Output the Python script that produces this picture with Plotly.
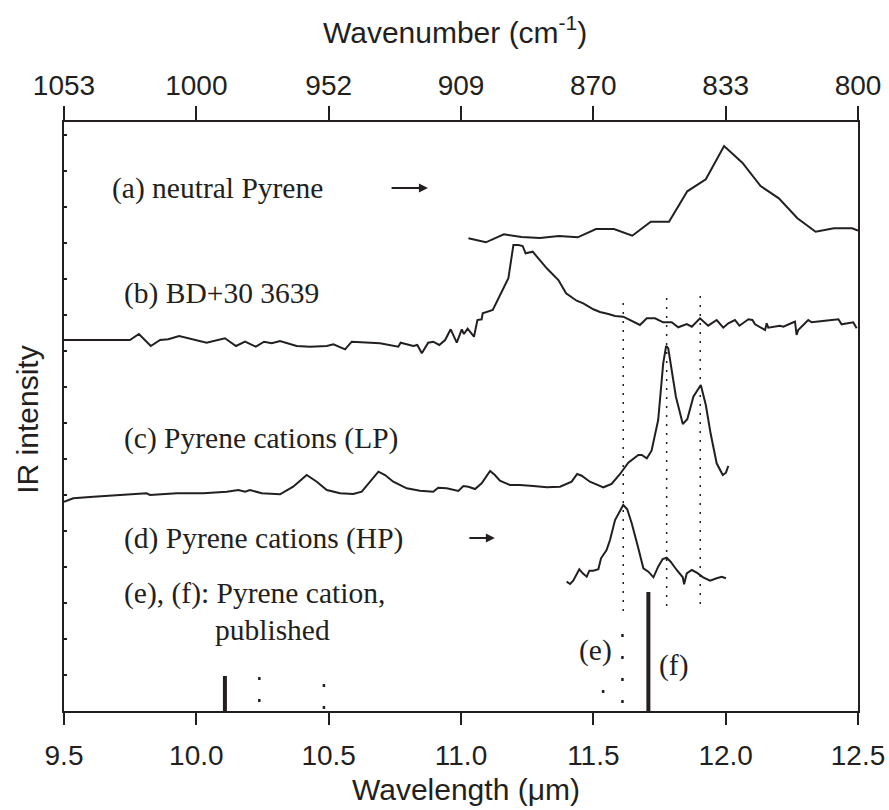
import plotly.graph_objects as go

# ---------------- data (wavelength in um, intensity in arb. units) ----------------
wl_a = [11.028, 11.094, 11.162, 11.229, 11.298, 11.370, 11.441, 11.510, 11.578, 11.647, 11.717,
        11.786, 11.855, 11.925, 11.994, 12.063, 12.132, 12.201, 12.271, 12.340, 12.409, 12.478, 12.500]
int_a = [472.7, 468.7, 476.7, 474, 473, 475, 473.7, 482, 482, 475.3, 489.3,
         489.3, 519.7, 531.7, 565, 548.3, 525, 512.7, 492.7, 479.3, 482.7, 482.7, 480.3]

wl_b = [9.500, 9.749, 9.783, 9.828, 9.863, 9.894, 9.935, 10.039, 10.108, 10.150, 10.184, 10.225,
        10.256, 10.285, 10.316, 10.379, 10.430, 10.493, 10.518, 10.562, 10.587, 10.694, 10.763,
        10.772, 10.820, 10.835, 10.852, 10.876, 10.895, 10.918, 10.940, 10.961, 10.984, 11.003,
        11.011, 11.025, 11.049, 11.062, 11.078, 11.082, 11.120, 11.179, 11.198, 11.217, 11.233,
        11.244, 11.271, 11.324, 11.368, 11.397, 11.437, 11.462, 11.500, 11.525, 11.557, 11.582,
        11.613, 11.645, 11.676, 11.702, 11.733, 11.764, 11.796, 11.821, 11.853, 11.872, 11.903,
        11.934, 11.966, 11.991, 12.010, 12.035, 12.052, 12.086, 12.101, 12.111, 12.149, 12.155,
        12.161, 12.205, 12.218, 12.256, 12.262, 12.268, 12.274, 12.312, 12.325, 12.375, 12.426,
        12.438, 12.482, 12.495]
int_b = [371, 371, 377, 365, 371, 371.7, 375, 368.3, 372.7, 365, 369.3, 364.3,
         369.3, 367.7, 370, 365, 364.3, 365, 366.7, 361.7, 369.3, 367.7, 364.3,
         368.3, 365, 366, 357.7, 368.3, 369.3, 366, 371, 381.7, 368.3, 381.7,
         377, 382.3, 374.3, 391, 391.7, 397.7, 401, 432.7, 466, 466, 465,
         457.7, 459.3, 442.7, 431, 417.7, 410.3, 407.7, 401.7, 399, 397, 395,
         394.3, 390.3, 386, 392.7, 392.7, 388.7, 388.7, 383.7, 387, 384.3, 392.7,
         385.3, 391, 383.3, 387.7, 391, 385.3, 391.7, 391, 386.7, 381, 387.7,
         383.3, 385.3, 384.3, 388.7, 389.3, 376, 381, 391, 388.7, 390.3, 391.7,
         386.7, 388.7, 382.7]

wl_c = [9.500, 9.535, 9.611, 9.712, 9.812, 9.825, 9.926, 10.026, 10.115, 10.159, 10.184, 10.203,
        10.247, 10.316, 10.366, 10.417, 10.455, 10.493, 10.543, 10.593, 10.625, 10.688, 10.713,
        10.744, 10.795, 10.845, 10.895, 10.914, 10.946, 10.990, 11.009, 11.028, 11.053, 11.078,
        11.110, 11.128, 11.147, 11.185, 11.223, 11.273, 11.324, 11.374, 11.418, 11.439, 11.456,
        11.487, 11.538, 11.569, 11.601, 11.632, 11.670, 11.683, 11.702, 11.720, 11.745, 11.764,
        11.775, 11.783, 11.796, 11.812, 11.838, 11.855, 11.878, 11.906, 11.925, 11.943, 11.966,
        11.989, 12.001, 12.010]
int_c = [209.3, 212.7, 214.3, 216, 217.7, 216, 217.7, 217.7, 219.3, 221, 219.3, 221,
         217.7, 216.7, 224.3, 236, 229.3, 221, 217.7, 217, 219.3, 239.3, 236,
         229.3, 222.7, 220.3, 219.3, 223.3, 222.7, 220, 225, 224.3, 222, 227.7,
         240, 236, 230.3, 226, 226, 225, 223.7, 224.3, 229.3, 237, 235.3,
         229.3, 223.7, 227, 237, 248.3, 256, 256, 252.7, 260.3, 291, 347.7,
         365, 362.7, 341, 314.3, 287, 291.7, 314.3, 326, 306, 277.7, 247.7,
         236, 238.3, 245]

wl_d = [11.399, 11.412, 11.424, 11.447, 11.460, 11.475, 11.485, 11.500, 11.519, 11.529, 11.550,
        11.563, 11.582, 11.601, 11.613, 11.628, 11.645, 11.670, 11.689, 11.708, 11.727, 11.745,
        11.762, 11.777, 11.792, 11.815, 11.838, 11.843, 11.853, 11.872, 11.891, 11.915, 11.941,
        11.966, 11.985, 12.001]
int_d = [129.3, 127, 130.3, 141.7, 137.7, 134.3, 140.3, 140.3, 141.7, 152.7, 161,
         171, 191, 201, 206, 201.7, 187.7, 162.7, 142.7, 139.3, 133.7, 144.3,
         152, 153.3, 149.3, 141, 133.7, 126.7, 137.7, 141, 138.3, 133.7, 130.3,
         132.7, 134.3, 132.7]

# published pyrene cation bands
wl_e = [10.238, 10.482, 11.537, 11.610]
int_e = [34, 27, 21, 77]
wl_f = [10.108, 11.708]
int_f = [35, 119]

# dotted guide lines (position, bottom, top)
guide_x = [11.613, 11.777, 11.904]
guide_lo = [94, 99, 101]
guide_hi = [408, 413, 415]

x_ticks = [9.5, 10.0, 10.5, 11.0, 11.5, 12.0, 12.5]
x_ticktext = ["9.5", "10.0", "10.5", "11.0", "11.5", "12.0", "12.5"]
top_ticktext = ["1053", "1000", "952", "909", "870", "833", "800"]

INK = "#231f20"
SANS = "Liberation Sans, Arial, sans-serif"
SERIF = "Liberation Serif, Times New Roman, serif"

fig = go.Figure()

for gx, lo, hi in zip(guide_x, guide_lo, guide_hi):
    fig.add_trace(go.Scatter(x=[gx, gx], y=[hi, lo], mode="lines",
                             line=dict(color=INK, width=1.5, dash="2px,7px"),
                             hoverinfo="skip", showlegend=False))

for wl, inten in [(wl_a, int_a), (wl_b, int_b), (wl_c, int_c), (wl_d, int_d)]:
    fig.add_trace(go.Scatter(x=wl, y=inten, mode="lines",
                             line=dict(color=INK, width=2), showlegend=False))

for wx, h in zip(wl_e, int_e):
    fig.add_trace(go.Scatter(x=[wx, wx], y=[h, 0], mode="lines",
                             line=dict(color=INK, width=2.5, dash="3px,19px"),
                             showlegend=False))
for wx, h in zip(wl_f, int_f):
    fig.add_trace(go.Scatter(x=[wx, wx], y=[h, 0], mode="lines",
                             line=dict(color=INK, width=4), showlegend=False))

# invisible trace to anchor the top (wavenumber) axis
fig.add_trace(go.Scatter(x=[9.5, 12.5], y=[0, 0], xaxis="x2", mode="markers",
                         marker=dict(opacity=0), hoverinfo="skip", showlegend=False))

labels = [
    (9.674, 523, "(a) neutral Pyrene"),
    (9.719, 418, "(b) BD+30 3639"),
    (9.719, 273, "(c) Pyrene cations (LP)"),
    (9.719, 173, "(d) Pyrene cations (HP)"),
    (9.719, 118, "(e), (f): Pyrene cation,"),
    (10.063, 81, "published"),
]
for lx, ly, txt in labels:
    fig.add_annotation(x=lx, y=ly, text=txt, showarrow=False, xanchor="left", yanchor="middle",
                       font=dict(family=SERIF, size=29.5, color=INK))
fig.add_annotation(x=11.510, y=61, text="(e)", showarrow=False, xanchor="center", yanchor="middle",
                   font=dict(family=SERIF, size=29.5, color=INK))
fig.add_annotation(x=11.801, y=46, text="(f)", showarrow=False, xanchor="center", yanchor="middle",
                   font=dict(family=SERIF, size=29.5, color=INK))

# arrows
for (x0, x1, yy) in [(10.732, 10.875, 523), (11.026, 11.128, 173)]:
    fig.add_annotation(x=x1, y=yy, ax=x0, ay=yy, xref="x", yref="y", axref="x", ayref="y",
                       text="", showarrow=True, arrowhead=2, arrowsize=1, arrowwidth=1.8,
                       arrowcolor=INK)

# axis titles
fig.add_annotation(xref="paper", yref="paper", x=0.506, y=-0.134, xanchor="center", yanchor="middle",
                   text="Wavelength (μm)", showarrow=False, font=dict(family=SANS, size=30, color=INK))
fig.add_annotation(xref="paper", yref="paper", x=0.492, y=1.156, xanchor="center", yanchor="middle",
                   text="Wavenumber (cm<sup>-1</sup>)", showarrow=False,
                   font=dict(family=SANS, size=30, color=INK))
fig.add_annotation(xref="paper", yref="paper", x=-0.047, y=0.494, xanchor="center", yanchor="middle",
                   text="IR intensity", textangle=-90, showarrow=False,
                   font=dict(family=SANS, size=30, color=INK))

fig.update_layout(
    width=889, height=810, autosize=False,
    margin=dict(l=64, r=31, t=122, b=99, autoexpand=False),
    paper_bgcolor="white", plot_bgcolor="white",
    xaxis=dict(range=[9.5, 12.5], tickvals=x_ticks, ticktext=x_ticktext, automargin=False,
               ticks="outside", ticklen=12, tickwidth=1.5, tickcolor=INK, ticklabelstandoff=6,
               showline=True, linecolor=INK, linewidth=2, showgrid=False, zeroline=False,
               tickfont=dict(family=SANS, size=28, color=INK)),
    xaxis2=dict(range=[9.5, 12.5], overlaying="x", side="top", tickvals=x_ticks, automargin=False,
                ticktext=top_ticktext, ticks="outside", ticklen=14, tickwidth=1.5, tickcolor=INK,
                showline=True, linecolor=INK, linewidth=2, showgrid=False, zeroline=False,
                tickfont=dict(family=SANS, size=28, color=INK)),
    yaxis=dict(range=[0, 589], tick0=0, dtick=36, ticks="inside", ticklen=3, tickwidth=1.5,
               tickcolor=INK, showticklabels=False, showline=True, mirror=True, automargin=False,
               linecolor=INK, linewidth=2, showgrid=False, zeroline=False),
    showlegend=False,
)

fig.write_html("out.html")
